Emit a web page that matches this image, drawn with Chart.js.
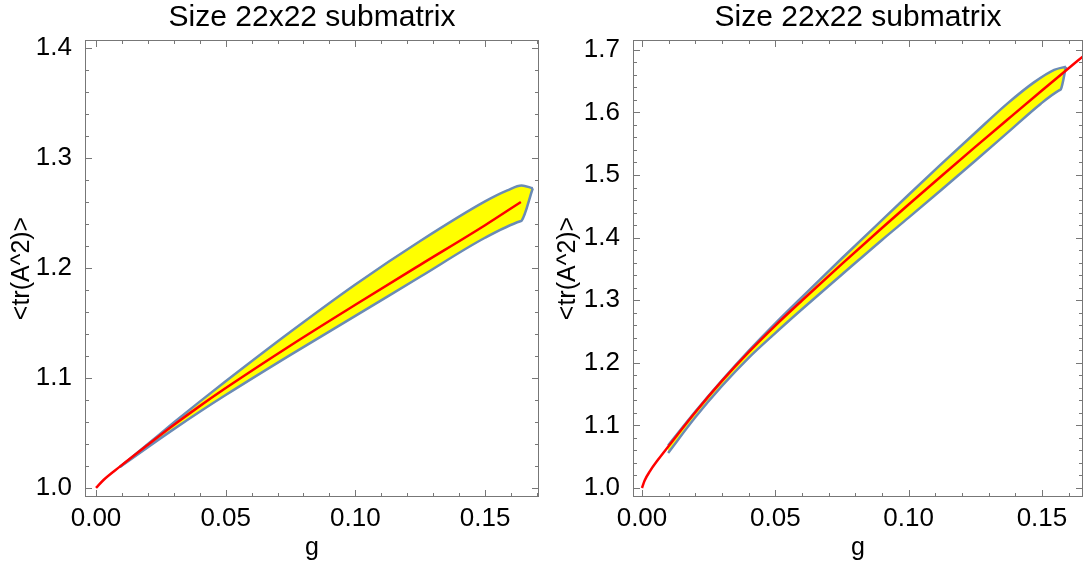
<!DOCTYPE html>
<html>
<head>
<meta charset="utf-8">
<script src="https://cdn.jsdelivr.net/npm/chart.js@4"></script>
<style>
  body { margin: 0; background: #fff; }
  canvas { position: absolute; top: 0; }
  #leftChart { left: 0; }
  #rightChart { left: 541px; }
</style>
</head>
<body>
<canvas id="leftChart" width="541" height="573"></canvas>
<canvas id="rightChart" width="542" height="573"></canvas>
<script>
const chartTitle = 'Size 22x22 submatrix';
const xLabel = 'g';
const yLabel = '<tr(A^2)>';
const gTicks = [0, 0.05, 0.10, 0.15];
const leftYTicks = [1.0, 1.1, 1.2, 1.3, 1.4];
const rightYTicks = [1.0, 1.1, 1.2, 1.3, 1.4, 1.5, 1.6, 1.7];

// left panel: red curve and the band around it
const leftRedG = [0, 0.003, 0.0092, 0.0195, 0.0297, 0.0393, 0.0496, 0.075, 0.1, 0.125, 0.15, 0.1638];
const leftRedY = [1.0, 1.0075, 1.0194, 1.0384, 1.0568, 1.0733, 1.0902, 1.1296, 1.1666, 1.2029, 1.2389, 1.260];
const leftUpperG = [0.0092, 0.02, 0.03, 0.04, 0.05, 0.075, 0.1, 0.125, 0.15, 0.1586, 0.1641, 0.1684];
const leftUpperY = [1.019, 1.040, 1.0595, 1.0785, 1.097, 1.142, 1.185, 1.2245, 1.2605, 1.2705, 1.275, 1.2725];
const leftLowerG = [0.0092, 0.02, 0.03, 0.04, 0.05, 0.075, 0.1, 0.125, 0.15, 0.1636, 0.1641, 0.1684];
const leftLowerY = [1.019, 1.0371, 1.0535, 1.0693, 1.0845, 1.121, 1.1565, 1.192, 1.2275, 1.2425, 1.243, 1.2725];

// right panel
const rightRedG = [0, 0.001, 0.003, 0.006, 0.01, 0.02, 0.03, 0.04, 0.05, 0.06, 0.075, 0.09, 0.1, 0.112, 0.125, 0.137, 0.15, 0.159, 0.1654];
const rightRedY = [1.0, 1.012, 1.027, 1.045, 1.067, 1.121, 1.171, 1.217, 1.2595, 1.2995, 1.358, 1.4153, 1.4529, 1.4973, 1.5449, 1.5883, 1.6351, 1.6671, 1.6895];
const rightUpperG = [0.0098, 0.02, 0.03, 0.04, 0.05, 0.06, 0.075, 0.09, 0.1, 0.112, 0.125, 0.137, 0.147, 0.1546, 0.159];
const rightUpperY = [1.068, 1.122, 1.172, 1.219, 1.263, 1.305, 1.367, 1.428, 1.4685, 1.5165, 1.5675, 1.614, 1.648, 1.668, 1.673];
const rightLowerG = [0.0098, 0.02, 0.03, 0.04, 0.05, 0.06, 0.075, 0.09, 0.1, 0.112, 0.125, 0.137, 0.1496, 0.1566, 0.1571, 0.159];
const rightLowerY = [1.056, 1.113, 1.163, 1.208, 1.2475, 1.2855, 1.341, 1.3963, 1.4319, 1.4753, 1.5229, 1.5673, 1.614, 1.6355, 1.637, 1.673];

const FONT = 'Liberation Sans, Arial, sans-serif';
const bandEdge = '#6a8bb6';

function pts(gs, ys) {
    return gs.map((g, i) => ({x: g, y: ys[i]}));
}

// Mathematica-style frame with inward ticks on all four sides
const frameTicks = {
    id: 'frameTicks',
    afterDraw(chart, args, o) {
        const {ctx, chartArea: a, scales: {x, y}} = chart;
        ctx.save();
        ctx.strokeStyle = '#777';
        ctx.lineWidth = 1;
        ctx.strokeRect(a.left + 0.5, a.top + 0.5, a.width - 1, a.height - 1);
        ctx.beginPath();
        for (let i = 0; ; i++) {
            const v = o.xStart + i * o.xMinor;
            if (v > x.max) break;
            if (v < x.min) continue;
            const major = Math.abs(v / o.xMajor - Math.round(v / o.xMajor)) < 1e-6;
            const len = major ? 7 : 4;
            const px = Math.round(x.getPixelForValue(v)) + 0.5;
            ctx.moveTo(px, a.bottom); ctx.lineTo(px, a.bottom - len);
            ctx.moveTo(px, a.top); ctx.lineTo(px, a.top + len);
        }
        for (let i = 0; ; i++) {
            const v = o.yStart + i * o.yMinor;
            if (v > y.max) break;
            if (v < y.min) continue;
            const major = Math.abs(v / o.yMajor - Math.round(v / o.yMajor)) < 1e-6;
            const len = major ? 7 : 4;
            const py = Math.round(y.getPixelForValue(v)) + 0.5;
            ctx.moveTo(a.left, py); ctx.lineTo(a.left + len, py);
            ctx.moveTo(a.right, py); ctx.lineTo(a.right - len, py);
        }
        ctx.stroke();
        ctx.restore();
    }
};

function makeChart(id, cfg) {
    const ctx = document.getElementById(id).getContext('2d');
    return new Chart(ctx, {
        type: 'line',
        data: {
            datasets: [
                {
                    data: pts(cfg.redG, cfg.redY),
                    borderColor: '#ff0000',
                    borderWidth: 2.5,
                    pointRadius: 0,
                    fill: false,
                    cubicInterpolationMode: 'monotone'
                },
                {
                    data: pts(cfg.lowerG, cfg.lowerY),
                    borderColor: bandEdge,
                    borderWidth: 2.5,
                    pointRadius: 0,
                    fill: false,
                    cubicInterpolationMode: 'monotone'
                },
                {
                    data: pts(cfg.upperG, cfg.upperY),
                    borderColor: bandEdge,
                    backgroundColor: '#ffff00',
                    borderWidth: 2.5,
                    pointRadius: 0,
                    fill: '-1',
                    cubicInterpolationMode: 'monotone'
                }
            ]
        },
        options: {
            responsive: false,
            animation: false,
            layout: { padding: { left: 0, right: cfg.padRight, top: 0, bottom: 0 } },
            plugins: {
                legend: { display: false },
                tooltip: { enabled: false },
                title: {
                    display: true,
                    text: chartTitle,
                    fullSize: false,
                    color: '#000',
                    font: { family: FONT, size: 30, weight: 'normal' },
                    padding: { top: 0, bottom: 4 }
                },
                frameTicks: {
                    xStart: 0, xMinor: 0.01, xMajor: 0.05,
                    yStart: 1.0, yMinor: 0.02, yMajor: 0.1
                }
            },
            scales: {
                x: {
                    type: 'linear',
                    min: cfg.xMin,
                    max: cfg.xMax,
                    afterBuildTicks: s => { s.ticks = gTicks.map(v => ({value: v})); },
                    afterFit: s => { s.height = 76; },
                    grid: { display: false },
                    border: { display: false },
                    ticks: {
                        color: '#000',
                        font: { family: FONT, size: 26 },
                        padding: -2,
                        maxRotation: 0,
                        autoSkip: false,
                        callback: v => Number(v).toFixed(2)
                    },
                    title: {
                        display: true,
                        text: xLabel,
                        color: '#000',
                        font: { family: FONT, size: 25 },
                        padding: { top: 0, bottom: 10 }
                    }
                },
                y: {
                    type: 'linear',
                    min: cfg.yMin,
                    max: cfg.yMax,
                    afterBuildTicks: s => { s.ticks = cfg.yTicks.map(v => ({value: v})); },
                    afterFit: s => { s.width = cfg.yWidth; },
                    grid: { display: false },
                    border: { display: false },
                    ticks: {
                        color: '#000',
                        font: { family: FONT, size: 26 },
                        padding: 5,
                        autoSkip: false,
                        callback: v => Number(v).toFixed(1)
                    },
                    title: {
                        display: true,
                        text: yLabel,
                        color: '#000',
                        font: { family: FONT, size: 25 },
                        padding: { top: cfg.yTitlePad, bottom: 0 }
                    }
                }
            }
        },
        plugins: [frameTicks]
    });
}

document.addEventListener('DOMContentLoaded', function() {
    makeChart('leftChart', {
        redG: leftRedG, redY: leftRedY,
        upperG: leftUpperG, upperY: leftUpperY,
        lowerG: leftLowerG, lowerY: leftLowerY,
        xMin: -0.00424, xMax: 0.1708,
        yMin: 0.9918, yMax: 1.4073,
        yTicks: leftYTicks,
        yWidth: 85, yTitlePad: 7, padRight: 2
    });
    makeChart('rightChart', {
        redG: rightRedG, redY: rightRedY,
        upperG: rightUpperG, upperY: rightUpperY,
        lowerG: rightLowerG, lowerY: rightLowerY,
        xMin: -0.00337, xMax: 0.1654,
        yMin: 0.9856, yMax: 1.7157,
        yTicks: rightYTicks,
        yWidth: 92, yTitlePad: 12, padRight: 0
    });
});
</script>
</body>
</html>
